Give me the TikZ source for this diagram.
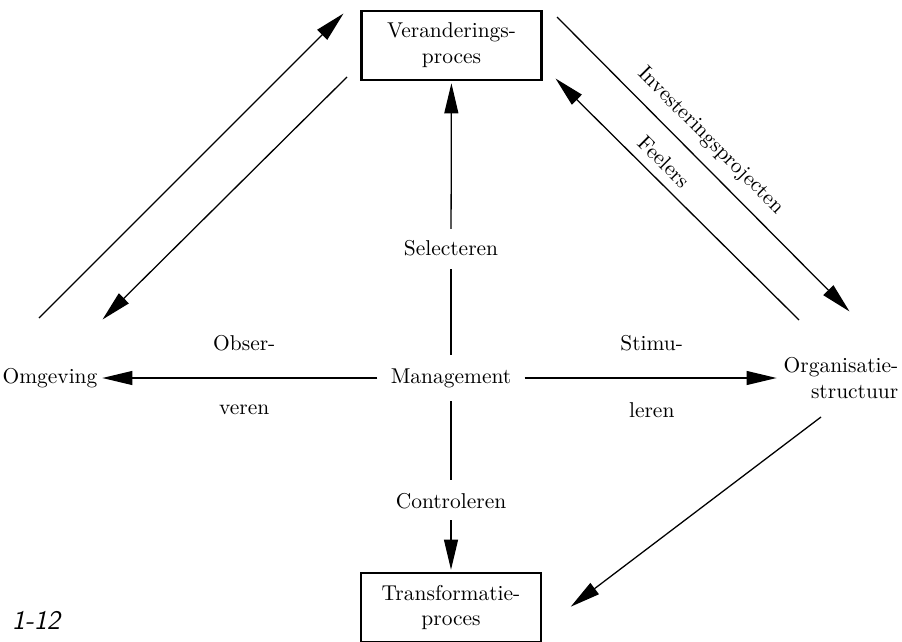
\documentclass[tikz,border=0pt]{standalone}
\usepackage{tikz}
\usetikzlibrary{arrows.meta}

\begin{document}
\begin{tikzpicture}[->,>={Triangle[length=14pt,width=6.5pt]},shorten >=1pt,auto,
  x=0.466pt,y=-0.466pt,semithick,
  proc node/.style={draw,very thick,align=center,minimum width=84pt,minimum height=32pt},
  lbl node/.style={inner sep=5pt}]

  \useasboundingbox (0,0) rectangle (902,641);

  \node[proc node] (verand) at (451.5,45.5) {Veranderings-\\proces};
  \node[proc node] (transf) at (451,607.5) {Transformatie-\\proces};
  \node[lbl node,inner sep=6pt] (mgmt) at (451,378) {Management};
  \node[inner sep=1pt] (omg) at (50,378) {Omgeving};
  \node[align=right,inner sep=2pt] (org) at (841,378) {Organisatie-\\structuur};
  \node[lbl node] (sel) at (451,248) {Selecteren};
  \node[lbl node] (contr) at (451,501) {Controleren};
  \node (fig) at (36,620) {\fontsize{12.5}{15}\selectfont\sffamily\itshape 1-12};

  \coordinate (a1) at (39,318);
  \coordinate (a2) at (345,12);
  \coordinate (b1) at (347,77);
  \coordinate (b2) at (101,321);
  \coordinate (c1) at (557,17);
  \coordinate (c2) at (851,313);
  \coordinate (d1) at (799,320);
  \coordinate (d2) at (554,77);
  \coordinate (e1) at (821,417);
  \coordinate (e2) at (569,608);

  \path
    (mgmt) edge[-] (sel)
    (sel) edge (verand)
    (mgmt) edge[-] (contr)
    (contr) edge (transf)
    (mgmt) edge node[above=9pt,pos=.48] {Obser-} node[below=9pt,pos=.48] {veren} (omg)
    (mgmt) edge node[above=9pt] {Stimu-} node[below=8pt] {leren} (org);

  \path
    (a1) edge (a2)
    (b1) edge (b2)
    (c1) edge node[sloped,above=2pt,pos=.47] {Investeringsprojecten} (c2)
    (d1) edge node[sloped,above=1pt,pos=.6] {Feelers} (d2)
    (e1) edge (e2);

\end{tikzpicture}
\end{document}
